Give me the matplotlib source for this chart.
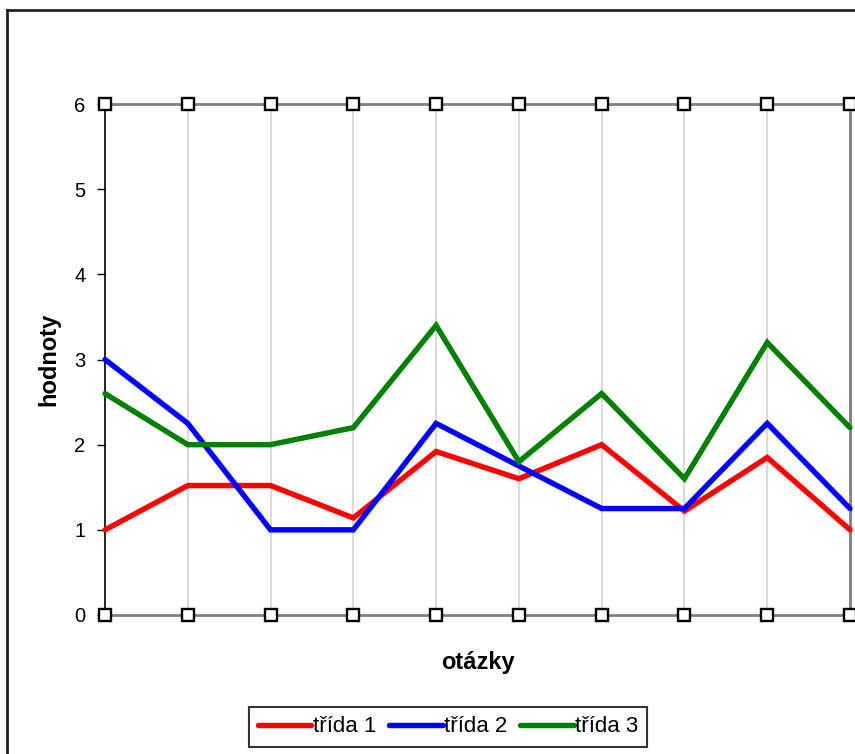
import numpy as np
import matplotlib.pyplot as plt
from matplotlib.lines import Line2D

plt.rcParams['font.family'] = ['Liberation Sans', 'DejaVu Sans']

# data
otazky = np.arange(10)
trida1 = [1.0, 1.52, 1.52, 1.14, 1.92, 1.6, 2.0, 1.22, 1.85, 1.0]
trida2 = [3.0, 2.25, 1.0, 1.0, 2.25, 1.75, 1.25, 1.25, 2.25, 1.25]
trida3 = [2.6, 2.0, 2.0, 2.2, 3.4, 1.8, 2.6, 1.6, 3.2, 2.2]
series = [('třída 1', trida1, '#ff0000'),
          ('třída 2', trida2, '#0000ff'),
          ('třída 3', trida3, '#008000')]

fig = plt.figure(figsize=(8.55, 7.54), dpi=100)
ax = fig.add_axes([105/855, 1 - 615/754, 745/855, 511/754])

# vertical gridlines
for x in otazky[1:-1]:
    ax.axvline(x, color='#d4d4d4', lw=1.2, zorder=0)

for name, vals, col in series:
    ax.plot(otazky, vals, color=col, lw=3.9, label=name,
            solid_joinstyle='miter', solid_capstyle='round', clip_on=False, zorder=3)

# square markers on top and bottom of the plot area
ax.plot(otazky, np.zeros(10), ls='none', marker='s', ms=8, mfc='white',
        mec='black', mew=1.7, clip_on=False, zorder=5)
ax.plot(otazky, np.full(10, 6), ls='none', marker='s', ms=8, mfc='white',
        mec='black', mew=1.7, clip_on=False, zorder=5)

ax.set_xlim(0, 9)
ax.set_ylim(0, 6)
ax.set_xticks([])
ax.set_yticks(range(7))
ax.tick_params(axis='y', direction='out', length=6, width=1, labelsize=14.5, pad=8)

ax.spines['left'].set_color('black')
ax.spines['left'].set_linewidth(1.2)
for s in ['top', 'bottom', 'right']:
    ax.spines[s].set_color('#808080')
    ax.spines[s].set_linewidth(2)

ax.set_ylabel('hodnoty', fontsize=17, fontweight='bold', labelpad=10)
ax.set_xlabel('otázky', fontsize=17, fontweight='bold', labelpad=26)

handles = [Line2D([], [], color=c, lw=3.9, solid_capstyle='round') for _, _, c in series]
leg = fig.legend(handles, [n for n, _, _ in series], loc='center',
                 bbox_to_anchor=(448/855, 1 - 727/754), ncol=3, fontsize=16,
                 frameon=True, fancybox=False, edgecolor='black',
                 handlelength=2.4, handletextpad=0.05, columnspacing=0.6,
                 borderpad=0.42, borderaxespad=0)
leg.get_frame().set_linewidth(1.5)

# chart border (left and top edges visible)
fig.add_artist(Line2D([7/855, 7/855], [0, 1 - 10/754], color='#222222', lw=2,
                      transform=fig.transFigure))
fig.add_artist(Line2D([7/855, 1], [1 - 10/754, 1 - 10/754], color='#222222', lw=2,
                      transform=fig.transFigure))

fig.savefig('out.png', dpi=100)
